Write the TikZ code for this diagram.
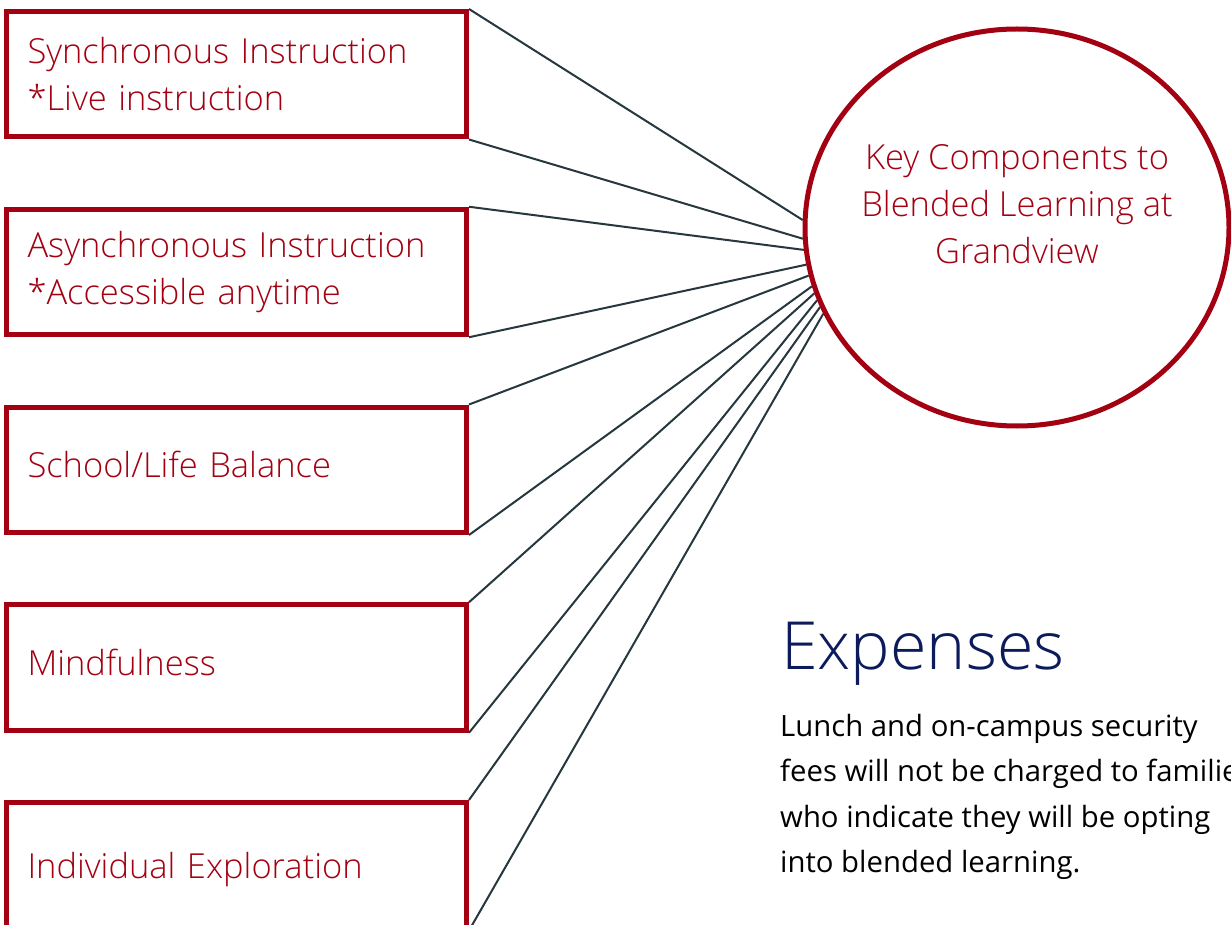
\documentclass[tikz,border=0pt]{standalone}
\usepackage{fontspec}
\setmainfont{Open Sans}
\newfontfamily\lightfont{Open Sans Light}
\usetikzlibrary{positioning,shapes.geometric}
\definecolor{gvred}{RGB}{163,0,18}
\definecolor{gvnavy}{RGB}{12,27,92}
\definecolor{gvslate}{RGB}{38,55,62}

\begin{document}
\begin{tikzpicture}[x=1pt,y=-1pt,
    box/.style={rectangle,draw=gvred,line width=5pt,minimum width=460pt,minimum height=125.5pt,
      inner xsep=21pt,text width=418pt,align=left,text=gvred,font=\lightfont\fontsize{34.5}{47}\selectfont},
    onerow/.style={text depth=10pt},
    hub/.style={ellipse,draw=gvred,line width=5pt,minimum width=424pt,minimum height=397pt},
    link/.style={draw=gvslate,line width=2pt}]
  \path[use as bounding box,fill=white] (0,0) rectangle (1231,925);
  \node[box] (sync) at (236.5,74.25) {Synchronous Instruction\\{*}Live instruction};
  \node[box,below=67.25pt of sync] (async) {Asynchronous Instruction\\{*}Accessible anytime};
  \node[box,onerow,below=67.25pt of async] (balance) {School/Life Balance};
  \node[box,onerow,below=67.25pt of balance] (mind) {Mindfulness};
  \node[box,below=67.25pt of mind,text depth=0pt] (explore) {Individual Exploration};
  \node[hub] (hub) at (1017,227.5) {};
  \node[inner sep=0pt,align=center,text=gvred,font=\lightfont\fontsize{34.5}{47}\selectfont] (hubtxt) at (1017,204)
    {Key Components to\\Blended Learning at\\Grandview};
  \path[link]
    (sync.north east) edge (hub.178.5)
    (sync.south east) edge (hub.183.3)
    (async.north east) edge (hub.186)
    (async.south east) edge (hub.190.6)
    (balance.north east) edge (hub.193.3)
    (balance.south east) edge (hub.196.2)
    (mind.north east) edge (hub.198.5)
    (mind.south east) edge (hub.200.4)
    (explore.north east) edge (hub.202.1)
    (explore.south east) edge (hub.204.2);
  \node[anchor=base west,inner sep=0pt,text=gvnavy,font=\lightfont\fontsize{66.4}{70}\selectfont] (exphead) at (781,669) {Expenses};
  \node[anchor=north west,inner sep=0pt,align=left,font=\fontsize{29.3}{45.5}\selectfont] (expbody) at (780,714)
    {Lunch and on-campus security\\fees will not be charged to families\\who indicate they will be opting\\into blended learning.};
\end{tikzpicture}
\end{document}
